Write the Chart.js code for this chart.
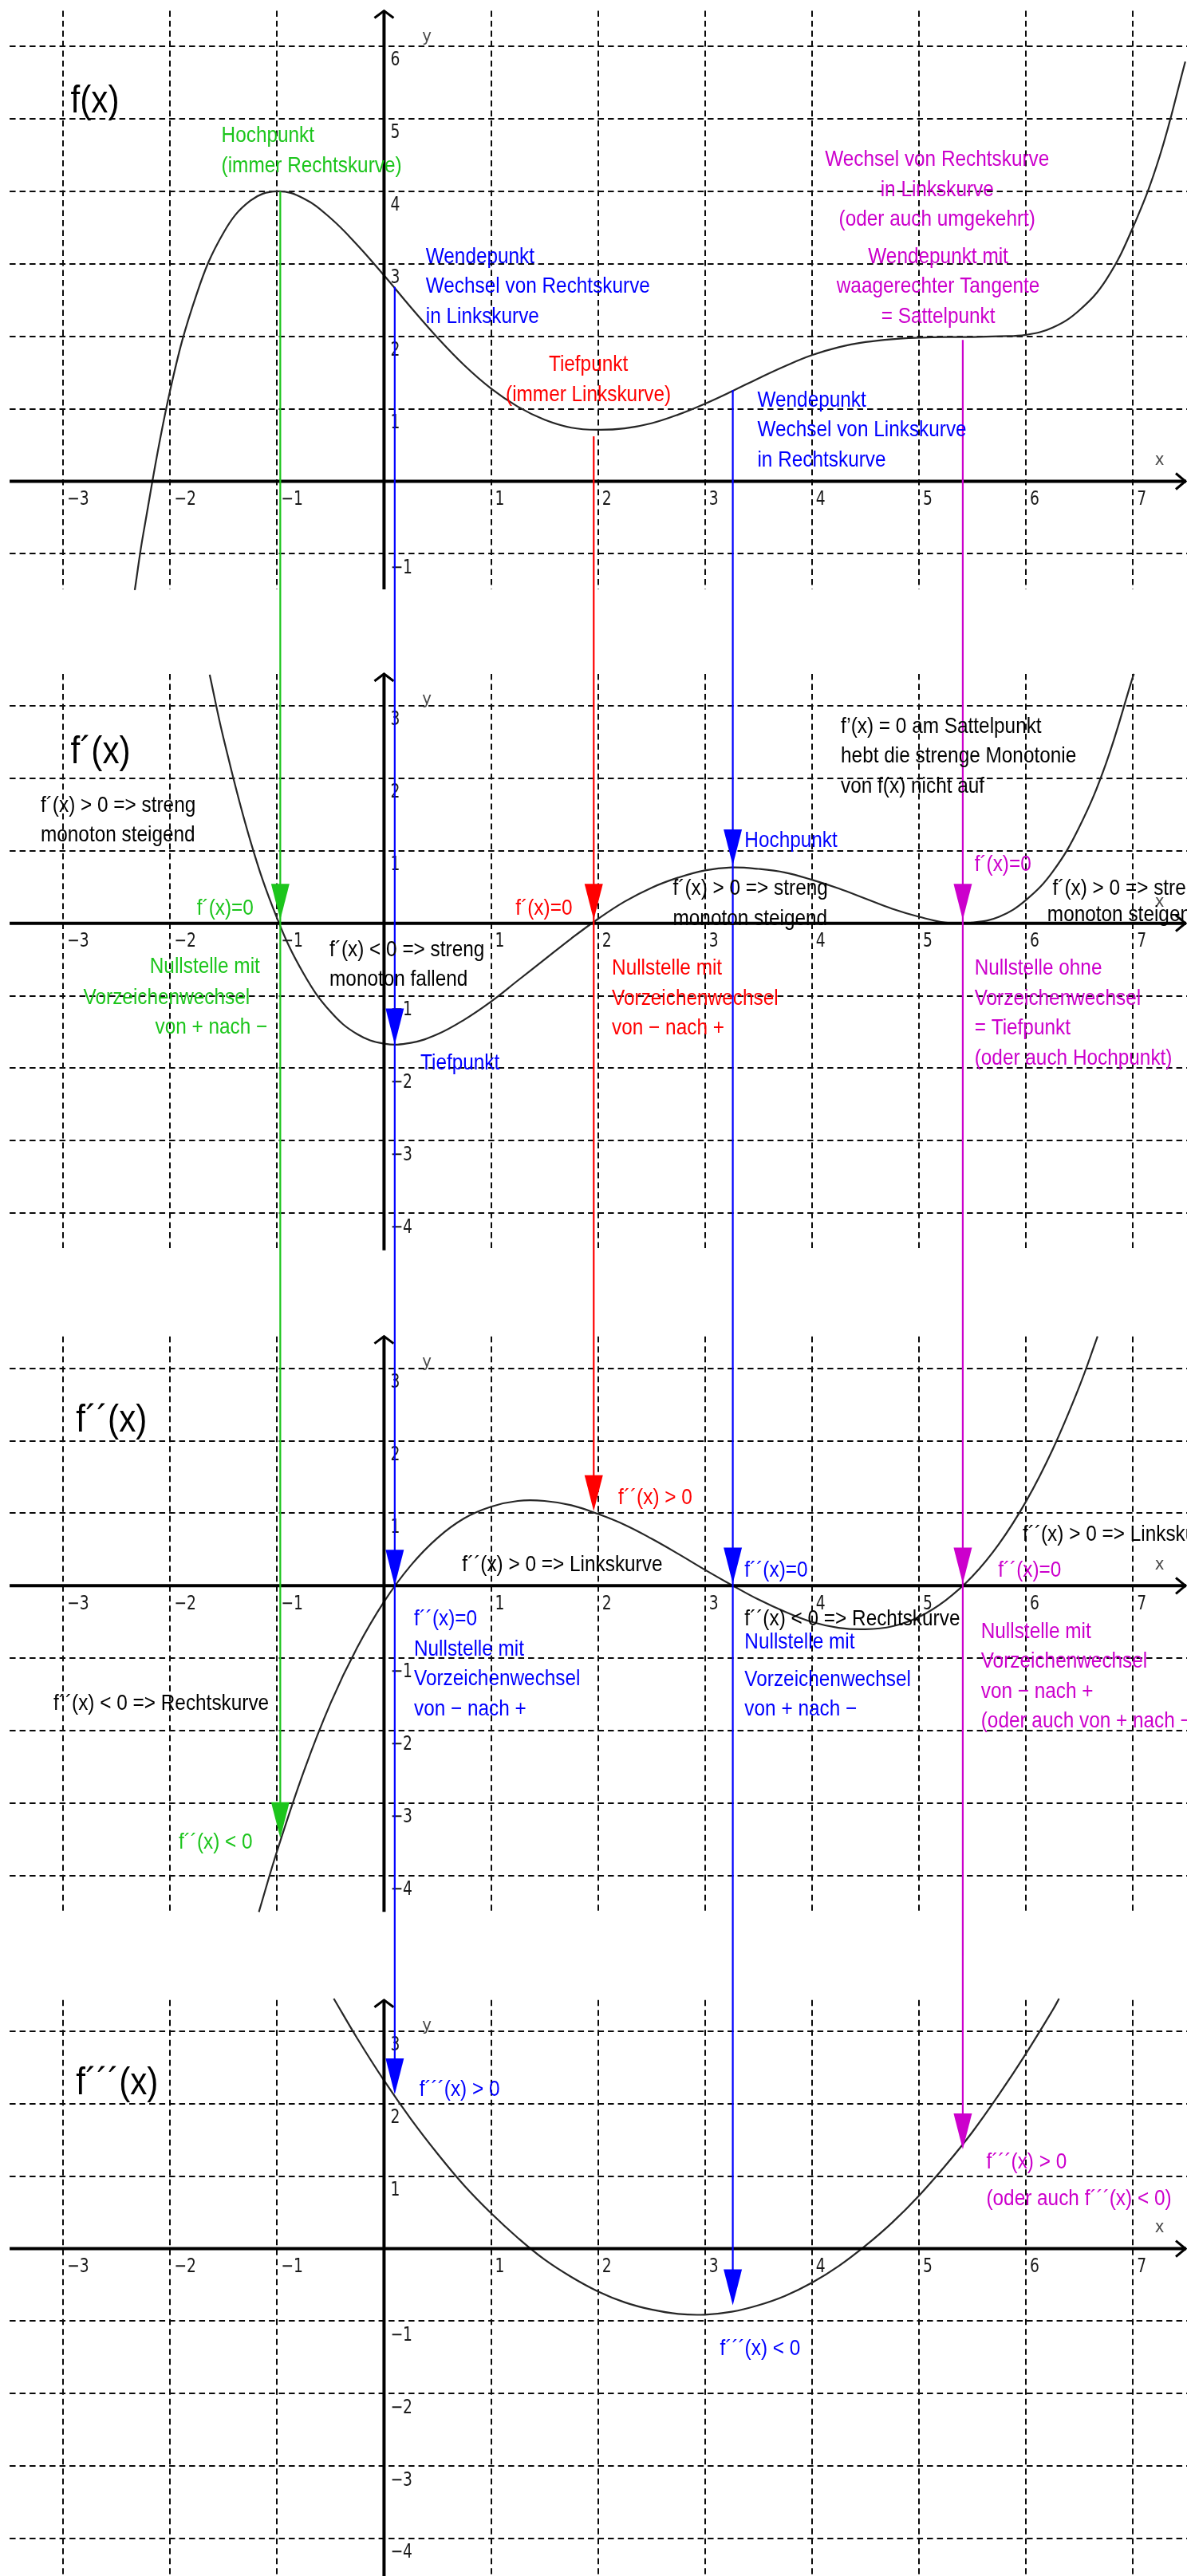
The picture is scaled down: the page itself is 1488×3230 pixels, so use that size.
<!DOCTYPE html>
<html><head><meta charset="utf-8">
<script src="https://cdn.jsdelivr.net/npm/chart.js@4.4.1/dist/chart.umd.min.js"></script>
<style>
html,body{margin:0;padding:0;background:#fff;}
#wrap{position:relative;width:1488px;height:3230px;overflow:hidden;background:#fff;}
canvas{position:absolute;left:0;display:block;}
</style></head><body>
<div id="wrap">
<canvas id="c0" style="top:0px;width:1488px;height:792px" width="1488" height="792"></canvas>
<canvas id="c1" style="top:792px;width:1488px;height:830px" width="1488" height="830"></canvas>
<canvas id="c2" style="top:1622px;width:1488px;height:830px" width="1488" height="830"></canvas>
<canvas id="c3" style="top:2452px;width:1488px;height:778px" width="1488" height="778"></canvas>
</div>
<script>
// ---------- data ----------
const fX = [-2.33,-2.25,-2.0,-1.75,-1.5,-1.25,-1.0,-0.75,-0.5,-0.25,0,0.25,0.5,0.75,1.0,1.25,1.5,1.75,2.0,2.25,2.5,2.75,3.0,3.25,3.5,3.75,4.0,4.25,4.5,4.75,5.0,5.25,5.5,5.75,6.0,6.25,6.5,6.75,7.0,7.25,7.49];
const fY = [-1.5,-0.72,1.25,2.59,3.43,3.87,4.0,3.9,3.63,3.26,2.84,2.4,1.98,1.6,1.28,1.03,0.85,0.74,0.71,0.73,0.8,0.92,1.07,1.24,1.42,1.59,1.74,1.85,1.92,1.96,1.98,1.99,1.99,2.0,2.02,2.12,2.36,2.78,3.5,4.48,5.79];

const f1X = [-1.63,-1.5,-1.25,-1.0,-0.75,-0.5,-0.25,0,0.25,0.5,0.75,1.0,1.25,1.5,1.75,2.0,2.25,2.5,2.75,3.0,3.25,3.5,3.75,4.0,4.25,4.5,4.75,5.0,5.25,5.5,5.75,6.0,6.25,6.5,6.75,7.0,7.01];
const f1Y = [3.43,2.55,1.14,0.07,-0.7,-1.22,-1.53,-1.66,-1.65,-1.53,-1.33,-1.08,-0.79,-0.5,-0.21,0.06,0.3,0.49,0.63,0.73,0.77,0.75,0.7,0.6,0.48,0.34,0.2,0.09,0.01,0.01,0.09,0.32,0.71,1.33,2.21,3.4,3.44];

const f2X = [-1.17,-1.0,-0.75,-0.5,-0.25,0,0.25,0.5,0.75,1.0,1.25,1.5,1.75,2.0,2.25,2.5,2.75,3.0,3.25,3.5,3.75,4.0,4.25,4.5,4.75,5.0,5.25,5.5,5.75,6.0,6.25,6.5,6.67];
const f2Y = [-4.5,-3.66,-2.56,-1.62,-0.85,-0.22,0.28,0.66,0.93,1.09,1.17,1.17,1.11,0.99,0.84,0.65,0.44,0.22,0.01,-0.19,-0.36,-0.5,-0.58,-0.6,-0.56,-0.43,-0.2,0.13,0.58,1.16,1.88,2.75,3.44];

const f3X = [-0.47,-0.25,0,0.25,0.5,0.75,1.0,1.25,1.5,1.75,2.0,2.25,2.5,2.75,3.0,3.25,3.5,3.75,4.0,4.25,4.5,4.75,5.0,5.25,5.5,5.75,6.0,6.25,6.31];
const f3Y = [3.45,2.9,2.32,1.79,1.31,0.87,0.49,0.15,-0.15,-0.39,-0.59,-0.74,-0.84,-0.9,-0.91,-0.87,-0.78,-0.65,-0.47,-0.24,0.04,0.36,0.73,1.15,1.61,2.13,2.69,3.29,3.45];

// tick labels
const xTicks = [-3,-2,-1,1,2,3,4,5,6,7];
const yTicksF = [-1,1,2,3,4,5,6];
const yTicksD = [-4,-3,-2,-1,1,2,3];
const titles = ['f(x)','f\u00b4(x)','f\u00b4\u00b4(x)','f\u00b4\u00b4\u00b4(x)'];

// vertical marker lines: x position, start value in f(x), arrow tips [panel, y]
const markX = [-0.97, 0.1, 1.96, 3.26, 5.41];
const markStart = [4.0, 2.68, 0.62, 1.26, 1.95];
const markTips = [
  [[1,0.05],[2,-3.48]],
  [[1,-1.67],[2,0.0],[3,2.13]],
  [[1,0.05],[2,1.03]],
  [[1,0.80],[2,0.03],[3,-0.78]],
  [[1,0.05],[2,0.03],[3,1.37]]
];
const GREEN='#1cc51c', BLUE='#0000ff', RED='#ff0000', MAG='#cc00cc', BLACK='#000000';
const markColor = [GREEN, BLUE, RED, BLUE, MAG];

// annotations: [panel, x, baseline y, align, colour, lines]
const notes = [
  [0,-1.52,4.68,'left',GREEN,['Hochpunkt','(immer Rechtskurve)']],
  [0,0.39,3.01,'left',BLUE,['Wendepunkt','Wechsel von Rechtskurve','in Linkskurve']],
  [0,1.91,1.52,'center',RED,['Tiefpunkt','(immer Linkskurve)']],
  [0,3.49,1.03,'left',BLUE,['Wendepunkt','Wechsel von Linkskurve','in Rechtskurve']],
  [0,5.17,4.35,'center',MAG,['Wechsel von Rechtskurve','in Linkskurve','(oder auch umgekehrt)']],
  [0,5.18,3.01,'center',MAG,['Wendepunkt mit','waagerechter Tangente','= Sattelpunkt']],

  [1,-3.21,1.54,'left',BLACK,['f\u00b4(x) > 0 => streng','monoton steigend']],
  [1,-1.75,0.12,'left',GREEN,['f\u00b4(x)=0']],
  [1,-2.19,-0.69,'left',GREEN,['Nullstelle mit']],
  [1,-2.81,-1.11,'left',GREEN,['Vorzeichenwechsel']],
  [1,-2.14,-1.52,'left',GREEN,['von + nach \u2212']],
  [1,-0.51,-0.45,'left',BLACK,['f\u00b4(x) < 0 => streng','monoton fallend']],
  [1,1.23,0.12,'left',RED,['f\u00b4(x)=0']],
  [1,0.34,-2.02,'left',BLUE,['Tiefpunkt']],
  [1,4.27,2.63,'left',BLACK,['f\u2019(x) = 0 am Sattelpunkt','hebt die strenge Monotonie','von f(x) nicht auf']],
  [1,3.37,1.05,'left',BLUE,['Hochpunkt']],
  [1,2.70,0.39,'left',BLACK,['f\u00b4(x) > 0 => streng','monoton steigend']],
  [1,5.52,0.72,'left',MAG,['f\u00b4(x)=0']],
  [1,6.25,0.39,'left',BLACK,['f\u00b4(x) > 0 => streng']],
  [1,6.20,0.03,'left',BLACK,['monoton steigend']],
  [1,2.13,-0.71,'left',RED,['Nullstelle mit','Vorzeichenwechsel','von \u2212 nach +']],
  [1,5.52,-0.71,'left',MAG,['Nullstelle ohne','Vorzeichenwechsel','= Tiefpunkt','(oder auch Hochpunkt)']],

  [2,-3.09,-1.71,'left',BLACK,['f\u00b4\u00b4(x) < 0 => Rechtskurve']],
  [2,-1.92,-3.63,'left',GREEN,['f\u00b4\u00b4(x) < 0']],
  [2,0.28,-0.55,'left',BLUE,['f\u00b4\u00b4(x)=0','Nullstelle mit','Vorzeichenwechsel','von \u2212 nach +']],
  [2,0.73,0.20,'left',BLACK,['f\u00b4\u00b4(x) > 0 => Linkskurve']],
  [2,2.19,1.13,'left',RED,['f\u00b4\u00b4(x) > 0']],
  [2,3.37,0.13,'left',BLUE,['f\u00b4\u00b4(x)=0']],
  [2,3.37,-0.55,'left',BLACK,['f\u00b4\u00b4(x) < 0 => Rechtskurve']],
  [2,3.37,-0.87,'left',BLUE,['Nullstelle mit']],
  [2,3.37,-1.38,'left',BLUE,['Vorzeichenwechsel','von + nach \u2212']],
  [2,5.74,0.13,'left',MAG,['f\u00b4\u00b4(x)=0']],
  [2,5.97,0.62,'left',BLACK,['f\u00b4\u00b4(x) > 0 => Linkskurve']],
  [2,5.58,-0.72,'left',MAG,['Nullstelle mit','Vorzeichenwechsel','von \u2212 nach +','(oder auch von + nach \u2212)']],

  [3,0.33,2.11,'left',BLUE,['f\u00b4\u00b4\u00b4(x) > 0']],
  [3,3.14,-1.47,'left',BLUE,['f\u00b4\u00b4\u00b4(x) < 0']],
  [3,5.63,1.11,'left',MAG,['f\u00b4\u00b4\u00b4(x) > 0']],
  [3,5.63,0.60,'left',MAG,['(oder auch f\u00b4\u00b4\u00b4(x) < 0)']]
];

// ---------- layout of the four coordinate systems ----------
const X_MIN = -3.59, X_MAX = 7.506;
const panels = [
  {id:'c0', yMin:-2.074, yMax:6.639, top:6.49, bottom:-1.49, yTicks:yTicksF, titleX:-2.93, titleY:5.09, xs:fX, ys:fY},
  {id:'c1', yMin:-5.108, yMax:4.023, top:3.44, bottom:-4.51, yTicks:yTicksD, titleX:-2.93, titleY:2.21, xs:f1X, ys:f1Y},
  {id:'c2', yMin:-5.101, yMax:4.030, top:3.44, bottom:-4.50, yTicks:yTicksD, titleX:-2.88, titleY:2.13, xs:f2X, ys:f2Y},
  {id:'c3', yMin:-4.515, yMax:4.044, top:3.43, bottom:-4.52, yTicks:yTicksD, titleX:-2.88, titleY:2.13, xs:f3X, ys:f3Y}
];

const NOTE_FONT = '"Liberation Sans", Arial, sans-serif';
function txt(ctx, s, px, py, align, color, size, hs, base, fam){
  ctx.save();
  ctx.translate(px, py);
  ctx.scale(hs, 1);
  ctx.font = size + 'px ' + (fam || NOTE_FONT);
  ctx.textAlign = align;
  ctx.textBaseline = base || 'alphabetic';
  ctx.fillStyle = color;
  ctx.fillText(s, 0, 0);
  ctx.restore();
}

function makePlugin(k){
  const P = panels[k];
  return {
    id:'deco'+k,
    beforeDatasetsDraw(chart){
      const ctx = chart.ctx, xs = chart.scales.x, ys = chart.scales.y;
      ctx.save();
      ctx.strokeStyle = '#0a0a0a';
      ctx.lineWidth = 2;
      ctx.setLineDash([7.5,5]);
      for (let i = -3; i <= 7; i++){
        if (i === 0) continue;
        const px = Math.round(xs.getPixelForValue(i));
        ctx.beginPath();
        ctx.moveTo(px, ys.getPixelForValue(P.top));
        ctx.lineTo(px, ys.getPixelForValue(P.bottom));
        ctx.stroke();
      }
      for (let j = Math.ceil(P.bottom); j <= Math.floor(P.top); j++){
        if (j === 0) continue;
        const py = Math.round(ys.getPixelForValue(j));
        ctx.beginPath();
        ctx.moveTo(xs.getPixelForValue(-3.5), py);
        ctx.lineTo(xs.getPixelForValue(X_MAX), py);
        ctx.stroke();
      }
      ctx.restore();
    },
    afterDatasetsDraw(chart){
      const ctx = chart.ctx, xs = chart.scales.x, ys = chart.scales.y;
      const X = v => xs.getPixelForValue(v), Y = v => ys.getPixelForValue(v);
      ctx.save();
      ctx.strokeStyle = '#000';
      ctx.lineWidth = 4;
      ctx.setLineDash([]);
      ctx.beginPath();
      ctx.moveTo(X(-3.5), Y(0)); ctx.lineTo(X(X_MAX) - 1, Y(0));
      ctx.moveTo(X(0), Y(P.bottom)); ctx.lineTo(X(0), Y(P.top));
      ctx.stroke();
      ctx.lineWidth = 3;
      ctx.beginPath();
      const ex = X(X_MAX) - 2, ey = Y(0);
      ctx.moveTo(ex - 12, ey - 10); ctx.lineTo(ex, ey); ctx.lineTo(ex - 12, ey + 10);
      const tx = X(0), ty = Y(P.top);
      ctx.moveTo(tx - 12, ty + 9); ctx.lineTo(tx, ty); ctx.lineTo(tx + 12, ty + 9);
      ctx.stroke();

      const TICK_FONT = '"DejaVu Sans", sans-serif';
      xTicks.forEach(v => {
        const s = v < 0 ? '\u2212' + (-v) : String(v);
        txt(ctx, s, X(v) + 5, Y(0) + 23, 'left', '#1a1a1a', 24, 0.78, 'middle', TICK_FONT);
      });
      P.yTicks.forEach(v => {
        const s = v < 0 ? '\u2212' + (-v) : String(v);
        txt(ctx, s, X(0) + 8, Y(v) + 18, 'left', '#1a1a1a', 24, 0.78, 'middle', TICK_FONT);
      });
      txt(ctx, 'y', X(0.40), Y(P.top - 0.36), 'center', '#4a4a4a', 22, 0.9, 'middle', TICK_FONT);
      txt(ctx, 'x', X(7.25), Y(0.29), 'center', '#4a4a4a', 22, 0.9, 'middle', TICK_FONT);

      const cTop = Y(P.yMax), cBot = Y(P.yMin);
      markX.forEach((mx, m) => {
        const tips = markTips[m];
        const last = tips[tips.length - 1];
        if (k > last[0]) return;
        const y1 = k === 0 ? Y(markStart[m]) : cTop;
        const y2 = k === last[0] ? Y(last[1]) - 20 : cBot;
        const px = X(mx);
        ctx.strokeStyle = markColor[m];
        ctx.fillStyle = markColor[m];
        ctx.lineWidth = 2.2;
        ctx.beginPath(); ctx.moveTo(px, y1); ctx.lineTo(px, y2); ctx.stroke();
        tips.forEach(t => {
          if (t[0] !== k) return;
          const py = Y(t[1]);
          ctx.beginPath();
          ctx.moveTo(px, py); ctx.lineTo(px - 11.5, py - 45); ctx.lineTo(px + 11.5, py - 45);
          ctx.closePath(); ctx.fill();
        });
      });

      txt(ctx, titles[k], X(P.titleX), Y(P.titleY), 'left', '#000', 48, 0.88);
      const gap = 37.5;
      notes.forEach(n => {
        if (n[0] !== k) return;
        n[5].forEach((line, i) => {
          txt(ctx, line, X(n[1]), Y(n[2]) + i * gap, n[3], n[4], 28, 0.87);
        });
      });
      ctx.restore();
    }
  };
}

panels.forEach((P, k) => {
  const pts = P.xs.map((x, i) => ({x: x, y: P.ys[i]}));
  new Chart(document.getElementById(P.id), {
    type: 'scatter',
    data: { datasets: [{
      data: pts, showLine: true, borderColor: '#262626', borderWidth: 2.2,
      pointRadius: 0, fill: false, tension: 0.4
    }]},
    options: {
      responsive: false, maintainAspectRatio: false, animation: false,
      layout: { padding: 0 },
      plugins: { legend: {display: false}, tooltip: {enabled: false} },
      events: [],
      scales: {
        x: { type: 'linear', min: X_MIN, max: X_MAX, display: false },
        y: { type: 'linear', min: P.yMin, max: P.yMax, display: false }
      }
    },
    plugins: [makePlugin(k)]
  });
});
</script>
</body></html>
